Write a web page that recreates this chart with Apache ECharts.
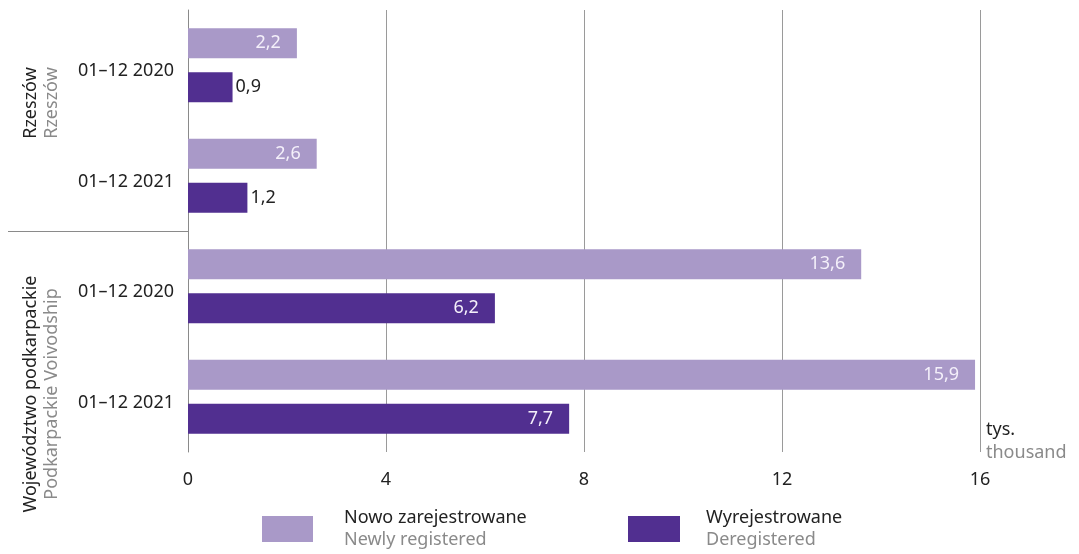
<!DOCTYPE html>
<html>
<head>
<meta charset="utf-8">
<script src="https://cdn.jsdelivr.net/npm/echarts@6/dist/echarts.min.js"></script>
<style>
  html, body { margin: 0; padding: 0; background: #fff; }
  #chart { width: 1079px; height: 554px; }
</style>
</head>
<body>
<div id="chart"></div>
<script>
// periods shown on the y axis, top to bottom
const categories = ['01–12 2020', '01–12 2021', '01–12 2020', '01–12 2021'];
// thousand vehicles
const newlyRegistered = [2.2, 2.6, 13.6, 15.9];
const deregistered = [0.9, 1.2, 6.2, 7.7];
const xTicks = [0, 4, 8, 12, 16];

const groups = [
  { pl: 'Rzeszów', en: 'Rzeszów', y: 103 },
  { pl: 'Województwo podkarpackie', en: 'Podkarpackie Voivodship', y: 394 }
];

const FONT = '"Noto Sans", "Open Sans", sans-serif';
const FS = 18;
const LIGHT = '#a999c8';
const DARK = '#512f90';
const GREY = '#8a8a8a';

function fmt(v) {
  return String(v).replace('.', ',');
}

function labelFor(v) {
  // short bars get the label outside
  if (v < 2) {
    return { show: true, position: 'right', distance: 3, color: '#222' };
  }
  return { show: true, position: 'insideRight', distance: 16, color: '#f4f0fa' };
}

let chart = echarts.init(document.getElementById('chart'));

function extraGraphics(sepY, axisX) {
  let items = [];
  groups.forEach(function (g) {
    items.push({
      type: 'text', x: 31, y: g.y, rotation: Math.PI / 2,
      style: { text: g.pl, font: FS + 'px ' + FONT, fill: '#222', align: 'center', verticalAlign: 'middle' }
    });
    items.push({
      type: 'text', x: 52, y: g.y, rotation: Math.PI / 2,
      style: { text: g.en, font: FS + 'px ' + FONT, fill: GREY, align: 'center', verticalAlign: 'middle' }
    });
  });
  items.push({
    type: 'text', left: 986, top: 421,
    style: { text: 'tys.', font: FS + 'px ' + FONT, fill: '#222' }
  });
  items.push({
    type: 'text', left: 986, top: 444,
    style: { text: 'thousand', font: FS + 'px ' + FONT, fill: GREY }
  });
  if (sepY != null) {
    items.push({
      type: 'line',
      shape: { x1: 8, y1: sepY, x2: axisX, y2: sepY },
      style: { stroke: GREY, lineWidth: 1 }
    });
  }
  return items;
}

function legendRich() {
  return {
    a: { fontSize: FS, color: '#222', lineHeight: 22, fontFamily: FONT },
    b: { fontSize: FS, color: GREY, lineHeight: 22, fontFamily: FONT }
  };
}

chart.setOption({
  animation: false,
  textStyle: { fontFamily: FONT },
  grid: { left: 188, right: 99, top: 10, bottom: 102 },
  xAxis: {
    type: 'value',
    min: xTicks[0],
    max: xTicks[xTicks.length - 1],
    interval: 4,
    axisLine: { show: false },
    axisTick: { show: false },
    axisLabel: { color: '#222', fontSize: FS, margin: 19 },
    splitLine: { lineStyle: { color: '#9a9a9a', width: 1 } }
  },
  yAxis: {
    type: 'category',
    inverse: true,
    data: categories,
    axisLine: { show: true, lineStyle: { color: GREY, width: 1 } },
    axisTick: { show: false },
    // labels sit a little below the middle of each category
    axisLabel: { color: '#222', fontSize: FS, margin: 14, verticalAlign: 'top', lineHeight: 12 }
  },
  legend: [
    {
      data: ['Nowo zarejestrowane'],
      left: 262, top: 509, padding: 0,
      icon: 'rect', itemWidth: 51, itemHeight: 26,
      selectedMode: false,
      formatter: function () { return '{a|Nowo zarejestrowane}\n{b|Newly registered}'; },
      textStyle: { padding: [0, 0, 0, 26], rich: legendRich() }
    },
    {
      data: ['Wyrejestrowane'],
      left: 628, top: 509, padding: 0,
      icon: 'rect', itemWidth: 52, itemHeight: 26,
      selectedMode: false,
      formatter: function () { return '{a|Wyrejestrowane}\n{b|Deregistered}'; },
      textStyle: { padding: [0, 0, 0, 21], rich: legendRich() }
    }
  ],
  series: [
    {
      name: 'Nowo zarejestrowane',
      type: 'bar',
      barWidth: 30,
      barGap: '47%',
      itemStyle: { color: LIGHT },
      label: { fontSize: FS, formatter: function (p) { return fmt(p.value); } },
      data: newlyRegistered.map(function (v) { return { value: v, label: labelFor(v) }; })
    },
    {
      name: 'Wyrejestrowane',
      type: 'bar',
      barWidth: 30,
      itemStyle: { color: DARK },
      label: { fontSize: FS, formatter: function (p) { return fmt(p.value); } },
      data: deregistered.map(function (v) { return { value: v, label: labelFor(v) }; })
    }
  ],
  graphic: extraGraphics(null, null)
});

// separator between the two groups, placed between 2nd and 3rd category
let yA = chart.convertToPixel({ yAxisIndex: 0 }, 1);
let yB = chart.convertToPixel({ yAxisIndex: 0 }, 2);
let sepY = Math.round((yA + yB) / 2) + 0.5;
let axisX = chart.convertToPixel({ xAxisIndex: 0 }, 0);
chart.setOption({ graphic: extraGraphics(sepY, axisX) }, { replaceMerge: ['graphic'] });
</script>
</body>
</html>
